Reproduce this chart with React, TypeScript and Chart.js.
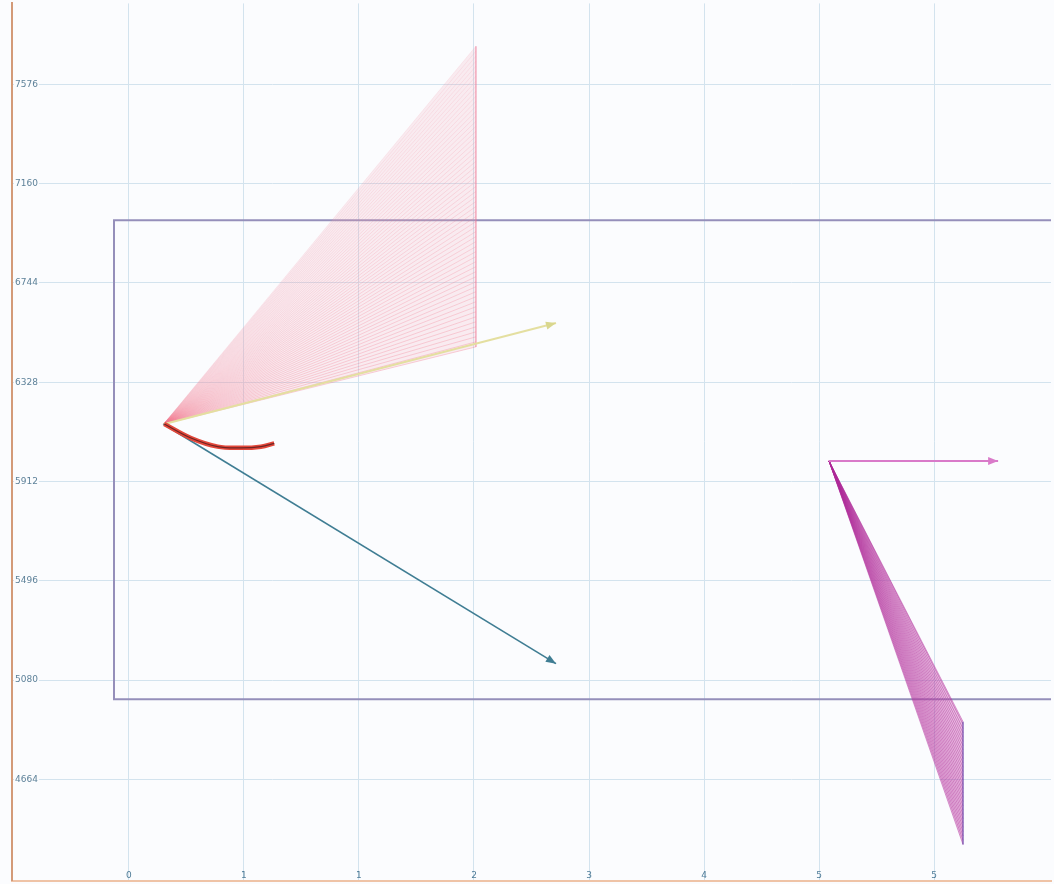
import React, { useEffect, useRef } from "react";
import { Chart, registerables } from "chart.js";
Chart.register(...registerables);

// ---- axes ----
const xTickValues = [0, 1, 2, 3, 4, 5, 6, 7];
const xTickLabels = ["0", "1", "1", "2", "3", "4", "5", "5"];
const yTickValues = [4664, 5080, 5496, 5912, 6328, 6744, 7160, 7576];
const xMin = -1.017;
const xMax = 8.017;
const yMin = 4240;
const yMax = 7915;

// ---- rectangle ----
const boxX = [8.3, -0.13, -0.13, 8.3];
const boxY = [7007, 7007, 5000, 5000];

// ---- left group ----
const originAX = 0.3;
const originAY = 6152;
const pinkFanEndX = 3.017;
const pinkFanEndY = [
  6476, 6497, 6518, 6539, 6560, 6581, 6602, 6623, 6644, 6665, 6686, 6707, 6728, 6749, 6770,
  6791, 6812, 6833, 6854, 6875, 6896, 6917, 6938, 6959, 6980, 7001, 7022, 7043, 7064, 7085,
  7106, 7127, 7148, 7169, 7190, 7211, 7232, 7253, 7274, 7295, 7316, 7337, 7358, 7379, 7400,
  7421, 7442, 7463, 7484, 7505, 7526, 7547, 7568, 7589, 7610, 7631, 7652, 7673, 7694, 7715, 7736,
];
const yellowArrowX = [0.3, 3.713];
const yellowArrowY = [6152, 6576];
const tealArrowX = [0.3, 3.713];
const tealArrowY = [6152, 5149];
const redCurveX = [0.307, 0.539, 0.771, 0.974, 1.148, 1.263];
const redCurveY = [6153, 6094, 6058, 6053, 6058, 6072];

// ---- right group ----
const originBX = 6.087;
const originBY = 5998;
const magentaArrowX = [6.087, 7.557];
const magentaArrowY = [5998, 5998];
const purpleFanEndX = 7.252;
const purpleFanEndY = [
  4391, 4409, 4427, 4445, 4463, 4481, 4499, 4517, 4535, 4553, 4571, 4589, 4607, 4625, 4643,
  4661, 4679, 4697, 4715, 4733, 4751, 4769, 4787, 4805, 4823, 4841, 4859, 4877, 4895, 4906,
];

const pts = (xs: number[], ys: number[]) => xs.map((x, i) => ({ x, y: ys[i] }));

const arrowPlugin = {
  id: "arrowHeads",
  afterDatasetsDraw(chart: any) {
    const ctx = chart.ctx;
    chart.data.datasets.forEach((ds: any, i: number) => {
      if (!ds.arrow) return;
      const meta = chart.getDatasetMeta(i);
      const n = meta.data.length;
      const a = meta.data[n - 2];
      const b = meta.data[n - 1];
      const ang = Math.atan2(b.y - a.y, b.x - a.x);
      const L = 10;
      const W = 4;
      ctx.save();
      ctx.fillStyle = ds.arrowColor || ds.borderColor;
      ctx.beginPath();
      ctx.moveTo(b.x, b.y);
      ctx.lineTo(b.x - L * Math.cos(ang) + W * Math.sin(ang), b.y - L * Math.sin(ang) - W * Math.cos(ang));
      ctx.lineTo(b.x - L * Math.cos(ang) - W * Math.sin(ang), b.y - L * Math.sin(ang) + W * Math.cos(ang));
      ctx.closePath();
      ctx.fill();
      ctx.restore();
    });
  },
};

const bgPlugin = {
  id: "bg",
  beforeDraw(chart: any) {
    const ctx = chart.ctx;
    ctx.save();
    ctx.fillStyle = "#fbfcfe";
    ctx.fillRect(0, 0, chart.width, chart.height);
    ctx.restore();
  },
};

const xLabelPlugin = {
  id: "xLabels",
  afterDraw(chart: any) {
    const ctx = chart.ctx;
    const sx = chart.scales.x;
    const area = chart.chartArea;
    ctx.save();
    ctx.font = "9px 'DejaVu Sans', sans-serif";
    ctx.fillStyle = "#4f7c98";
    ctx.textAlign = "center";
    ctx.textBaseline = "middle";
    xTickValues.forEach((v, i) => {
      ctx.fillText(xTickLabels[i], sx.getPixelForValue(v), area.bottom - 5);
    });
    ctx.restore();
  },
};

export default function App() {
  const ref = useRef<HTMLCanvasElement | null>(null);
  useEffect(() => {
    if (!ref.current) return;
    const datasets: any[] = [];
    datasets.push({
      data: pts(magentaArrowX, magentaArrowY),
      borderColor: "#d97ac9",
      borderWidth: 2,
      arrow: true,
    });
    datasets.push({
      data: pts(redCurveX, redCurveY),
      borderColor: "#6e2424",
      borderWidth: 1.2,
      tension: 0.35,
    });
    datasets.push({
      data: pts(redCurveX, redCurveY),
      borderColor: "#e2473a",
      borderWidth: 4.5,
      tension: 0.35,
    });
    datasets.push({
      data: pts(tealArrowX, tealArrowY),
      borderColor: "#3f7d93",
      borderWidth: 1.6,
      arrow: true,
    });
    datasets.push({
      data: pts(yellowArrowX, yellowArrowY),
      borderColor: "#e4dfa0",
      borderWidth: 2,
      arrow: true,
      arrowColor: "#d9d78e",
    });
    datasets.push({
      data: [
        { x: pinkFanEndX, y: pinkFanEndY[0] },
        { x: pinkFanEndX, y: pinkFanEndY[pinkFanEndY.length - 1] },
      ],
      borderColor: "rgba(236,120,150,0.6)",
      borderWidth: 1.5,
    });
    const nP = pinkFanEndY.length;
    pinkFanEndY.forEach((y, i) => {
      const a = 0.32 - 0.2 * (i / (nP - 1));
      datasets.push({
        data: [
          { x: originAX, y: originAY },
          { x: pinkFanEndX, y },
        ],
        borderColor: `rgba(242,118,140,${a.toFixed(3)})`,
        borderWidth: 1,
      });
    });
    // pink fan body
    datasets.push({
      data: [
        { x: originAX, y: originAY },
        { x: pinkFanEndX, y: pinkFanEndY[0] },
        { x: pinkFanEndX, y: pinkFanEndY[nP - 1] },
        { x: originAX, y: originAY },
      ],
      borderWidth: 0,
      borderColor: "rgba(0,0,0,0)",
      backgroundColor: "rgba(244,170,186,0.2)",
      fill: "shape",
    });
    datasets.push({
      data: [
        { x: purpleFanEndX, y: purpleFanEndY[0] },
        { x: purpleFanEndX, y: purpleFanEndY[purpleFanEndY.length - 1] },
      ],
      borderColor: "rgba(110,70,170,0.8)",
      borderWidth: 1.5,
    });
    purpleFanEndY.forEach((y) => {
      datasets.push({
        data: [
          { x: originBX, y: originBY },
          { x: purpleFanEndX, y },
        ],
        borderColor: "rgba(172,40,150,0.45)",
        borderWidth: 1,
      });
    });
    const nQ = purpleFanEndY.length;
    datasets.push({
      data: [
        { x: originBX, y: originBY },
        { x: purpleFanEndX, y: purpleFanEndY[0] },
        { x: purpleFanEndX, y: purpleFanEndY[nQ - 1] },
        { x: originBX, y: originBY },
      ],
      borderWidth: 0,
      borderColor: "rgba(0,0,0,0)",
      backgroundColor: "rgba(200,80,175,0.35)",
      fill: "shape",
    });
    datasets.push({
      data: pts(boxX, boxY),
      borderColor: "#958fba",
      borderWidth: 2,
    });

    const chart = new Chart(ref.current, {
      type: "line",
      data: { datasets },
      options: {
        animation: false,
        responsive: false,
        maintainAspectRatio: false,
        events: [],
        layout: { padding: { left: 11, top: 3, right: 4, bottom: 3 } },
        plugins: { legend: { display: false }, tooltip: { enabled: false } },
        elements: { point: { radius: 0 }, line: { tension: 0 } },
        scales: {
          x: {
            type: "linear",
            min: xMin,
            max: xMax,
            afterBuildTicks: (s: any) => {
              s.ticks = xTickValues.map((v) => ({ value: v }));
            },
            ticks: { display: false },
            grid: { color: "#d3e3ee", drawTicks: false, lineWidth: 1 },
            border: { color: "#efc3a6", width: 2 },
          },
          y: {
            type: "linear",
            min: yMin,
            max: yMax,
            afterBuildTicks: (s: any) => {
              s.ticks = yTickValues.map((v) => ({ value: v }));
            },
            ticks: {
              mirror: true,
              padding: 3,
              color: "#5d8199",
              font: { size: 9, family: "'DejaVu Sans', sans-serif" },
              callback: (v: any) => String(v),
              showLabelBackdrop: true,
              backdropColor: "#fbfcfe",
              backdropPadding: 1,
            },
            grid: { color: "#d3e3ee", drawTicks: false, lineWidth: 1 },
            border: { color: "#d39a78", width: 2 },
          },
        },
      } as any,
      plugins: [bgPlugin, arrowPlugin, xLabelPlugin],
    });
    return () => chart.destroy();
  }, []);
  return (
    <canvas
      ref={ref}
      width={1060}
      height={894}
      style={{ position: "fixed", left: -5, top: -5, width: 1060, height: 894, display: "block" }}
    />
  );
}
